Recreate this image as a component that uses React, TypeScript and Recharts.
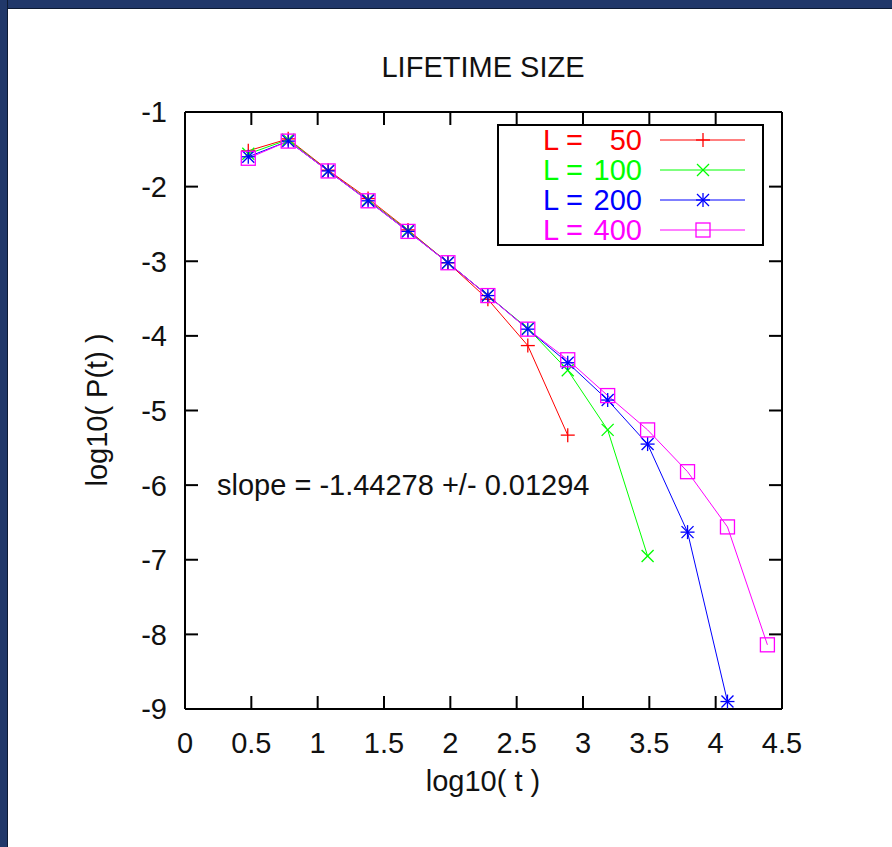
import React from 'react';
import { LineChart, Line, XAxis, YAxis, ReferenceLine, Legend } from 'recharts';

// log10(t) bin centres (t = 3, 6, 12, ... )
const logT = [0.477, 0.778, 1.079, 1.38, 1.681, 1.982, 2.283, 2.584, 2.885, 3.186, 3.487, 3.788, 4.089, 4.39];

const sizes = [50, 100, 200, 400];
const colors = ['#ff0000', '#00ff00', '#0000ff', '#ff00ff'];
const markers = ['plus', 'cross', 'star', 'square'];

// log10( P(t) ) per system size
const p50 = [-1.52, -1.36, -1.78, -2.16, -2.58, -3.02, -3.51, -4.13, -5.33];
const p100 = [-1.56, -1.37, -1.79, -2.18, -2.59, -3.02, -3.46, -3.9, -4.46, -5.26, -6.95];
const p200 = [-1.6, -1.39, -1.79, -2.19, -2.6, -3.02, -3.46, -3.91, -4.36, -4.86, -5.45, -6.63, -8.9];
const p400 = [-1.62, -1.39, -1.79, -2.19, -2.6, -3.02, -3.46, -3.91, -4.32, -4.8, -5.26, -5.82, -6.56, -8.14];

const xTicks = [0, 0.5, 1, 1.5, 2, 2.5, 3, 3.5, 4, 4.5];
const yTicks = [-9, -8, -7, -6, -5, -4, -3, -2, -1];

const series = [p50, p100, p200, p400].map((vals, i) => ({
  size: sizes[i],
  color: colors[i],
  marker: markers[i],
  data: vals.map((v, j) => ({ t: logT[j], v })),
}));

const W = 892;
const H = 847;
const MARGIN = { top: 112, right: 110, bottom: 78, left: 125 };
const PLOT_TOP = MARGIN.top;
const PLOT_RIGHT = W - MARGIN.right;
const X_MARGIN = 23;
const Y_MARGIN = 18;
const TICK_LEN = 13;
const FONT = '"Liberation Sans", Arial, Helvetica, sans-serif';
const FS = 29;

function Marker({ kind, cx, cy, color }: { kind: string; cx: number; cy: number; color: string }) {
  const a = 7;
  const b = 6;
  const sw = 1.3;
  if (kind === 'plus') {
    return (
      <g stroke={color} strokeWidth={sw}>
        <line x1={cx - a} x2={cx + a} y1={cy} y2={cy} />
        <line x1={cx} x2={cx} y1={cy - a} y2={cy + a} />
      </g>
    );
  }
  if (kind === 'cross') {
    return (
      <g stroke={color} strokeWidth={sw}>
        <line x1={cx - b} x2={cx + b} y1={cy - b} y2={cy + b} />
        <line x1={cx - b} x2={cx + b} y1={cy + b} y2={cy - b} />
      </g>
    );
  }
  if (kind === 'star') {
    return (
      <g stroke={color} strokeWidth={sw}>
        <line x1={cx - a} x2={cx + a} y1={cy} y2={cy} />
        <line x1={cx} x2={cx} y1={cy - a} y2={cy + a} />
        <line x1={cx - b} x2={cx + b} y1={cy - b} y2={cy + b} />
        <line x1={cx - b} x2={cx + b} y1={cy + b} y2={cy - b} />
      </g>
    );
  }
  return <rect x={cx - a} y={cy - a} width={2 * a} height={2 * a} fill="none" stroke={color} strokeWidth={sw} />;
}

const dotFor = (kind: string, color: string) => (props: any) => {
  const { cx, cy, key } = props;
  if (cx == null || cy == null) return <g key={key} />;
  return (
    <g key={key}>
      <Marker kind={kind} cx={cx} cy={cy} color={color} />
    </g>
  );
};

// bottom tick: label outside, tick mark inward, mirrored on top
const XTick = (props: any) => {
  const { x, y, payload } = props;
  const axisY = y - X_MARGIN;
  return (
    <g>
      <line x1={x} x2={x} y1={axisY} y2={axisY - TICK_LEN} stroke="#000" strokeWidth={2} />
      <line x1={x} x2={x} y1={PLOT_TOP} y2={PLOT_TOP + TICK_LEN} stroke="#000" strokeWidth={2} />
      <text x={x} y={y} dy="0.71em" textAnchor="middle" fill="#111" fontSize={FS} fontFamily={FONT}>
        {payload.value}
      </text>
    </g>
  );
};

// left tick: label outside, tick mark inward, mirrored on right
const YTick = (props: any) => {
  const { x, y, payload } = props;
  const axisX = x + Y_MARGIN;
  return (
    <g>
      <line x1={axisX} x2={axisX + TICK_LEN} y1={y} y2={y} stroke="#000" strokeWidth={2} />
      <line x1={PLOT_RIGHT} x2={PLOT_RIGHT - TICK_LEN} y1={y} y2={y} stroke="#000" strokeWidth={2} />
      <text x={x} y={y} dy="0.36em" textAnchor="end" fill="#111" fontSize={FS} fontFamily={FONT}>
        {payload.value}
      </text>
    </g>
  );
};

const LegendBox = ({ payload }: any) => {
  const entries = [...(payload || [])].sort((p: any, q: any) => Number(p.value) - Number(q.value));
  return (
    <svg width={268} height={122} style={{ display: 'block' }}>
      <rect x={1} y={1} width={265} height={120} fill="#fff" stroke="#000" strokeWidth={2} />
      {entries.map((entry: any, i: number) => {
        const s = series.find((d) => String(d.size) === String(entry.value)) || series[i];
        const cy = 16 + i * 30;
        return (
          <g key={s.size}>
            <text x={46} y={cy} dy="0.36em" fill={s.color} fontSize={FS} fontFamily={FONT}>
              L =
            </text>
            <text x={145} y={cy} dy="0.36em" textAnchor="end" fill={s.color} fontSize={FS} fontFamily={FONT}>
              {s.size}
            </text>
            <line x1={163} x2={248} y1={cy} y2={cy} stroke={s.color} strokeWidth={1} />
            <Marker kind={s.marker} cx={206} cy={cy} color={s.color} />
          </g>
        );
      })}
    </svg>
  );
};

export default function App() {
  return (
    <div style={{ position: 'absolute', left: 0, top: 0, width: W, height: H, background: '#fff', overflow: 'hidden' }}>
      <div style={{ position: 'absolute', left: 0, top: 0, width: W, height: 8, background: '#21386a', borderBottom: '1px solid #0d1a33' }} />
      <div style={{ position: 'absolute', left: 0, top: 0, width: 7, height: H, background: '#21386a', borderRight: '1px solid #0d1a33' }} />
      <div style={{ position: 'absolute', left: 0, top: 0 }}>
        <LineChart width={W} height={H} margin={MARGIN}>
          <XAxis
            dataKey="t"
            type="number"
            domain={[0, 4.5]}
            ticks={xTicks}
            interval={0}
            height={60}
            tickSize={0}
            tickMargin={X_MARGIN}
            tick={<XTick />}
            axisLine={{ stroke: '#000', strokeWidth: 2 }}
            tickLine={false}
            allowDataOverflow
          />
          <YAxis
            type="number"
            domain={[-9, -1]}
            ticks={yTicks}
            interval={0}
            width={60}
            tickSize={0}
            tickMargin={Y_MARGIN}
            tick={<YTick />}
            axisLine={{ stroke: '#000', strokeWidth: 2 }}
            tickLine={false}
            allowDataOverflow
          />
          <ReferenceLine y={-1} stroke="#000" strokeWidth={2} />
          <ReferenceLine x={4.5} stroke="#000" strokeWidth={2} />
          <Legend
            content={<LegendBox />}
            layout="horizontal"
            verticalAlign="middle"
            align="center"
            wrapperStyle={{ left: 497, top: 124, width: 268, height: 122 }}
          />
          {series.map((s) => (
            <Line
              key={s.size}
              data={s.data}
              dataKey="v"
              name={String(s.size)}
              stroke={s.color}
              strokeWidth={1}
              dot={dotFor(s.marker, s.color)}
              activeDot={false}
              isAnimationActive={false}
            />
          ))}
        </LineChart>
      </div>
      <svg width={W} height={H} style={{ position: 'absolute', left: 0, top: 0, pointerEvents: 'none' }}>
        <text x={483} y={77} textAnchor="middle" fill="#111" fontSize={FS} fontFamily={FONT}>
          LIFETIME SIZE
        </text>
        <text x={483} y={791} textAnchor="middle" fill="#111" fontSize={FS} fontFamily={FONT}>
          log10( t )
        </text>
        <text transform="translate(107,410) rotate(-90)" textAnchor="middle" fill="#111" fontSize={FS} fontFamily={FONT}>
          log10( P(t) )
        </text>
        <text x={217} y={495} fill="#111" fontSize={FS} fontFamily={FONT}>
          slope = -1.44278 +/- 0.01294
        </text>
      </svg>
    </div>
  );
}
